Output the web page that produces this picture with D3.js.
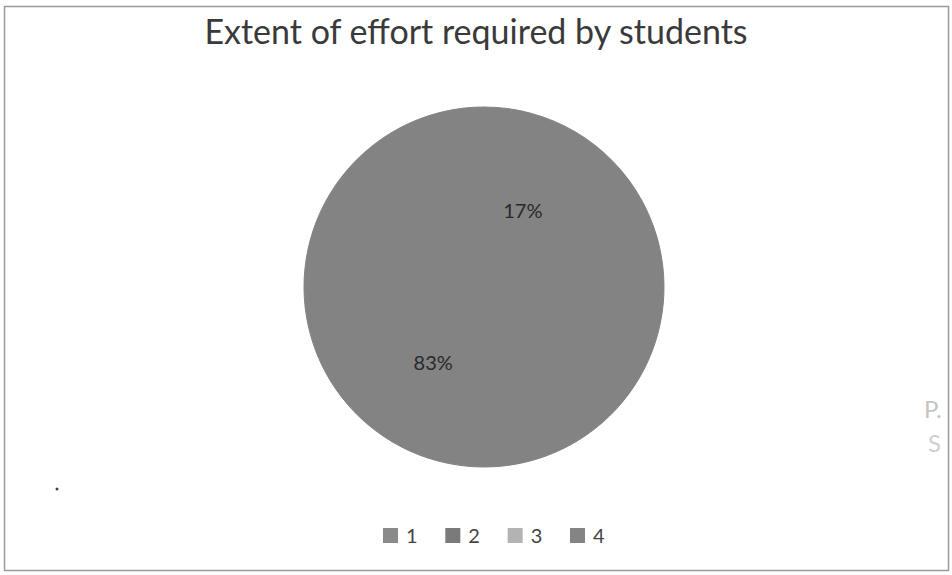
<!DOCTYPE html>
<html><head><meta charset="utf-8">
<script src="https://cdn.jsdelivr.net/npm/d3@7"></script>
<style>body{margin:0;background:#fff}svg{display:block}</style>
</head><body>
<svg id="c" width="952" height="575"></svg>
<script>
const categories = ["1", "2", "3", "4"];
const values = [17, 83, 0, 0];
const colors = ["#838383", "#838383", "#b3b3b3", "#838383"];
const legendColors = ["#8a8a8a", "#7a7a7a", "#b3b3b3", "#848484"];
const title = "Extent of effort required by students";

const svg = d3.select("#c");
const font = "Lato, 'Open Sans', 'Liberation Sans', sans-serif";

svg.append("rect").attr("x", 4.5).attr("y", 6.5).attr("width", 944).attr("height", 564)
  .attr("fill", "#fff").attr("stroke", "#9a9a9a").attr("stroke-width", 1.5);

svg.append("text").attr("x", 476).attr("y", 44).attr("text-anchor", "middle")
  .attr("font-family", font).attr("font-size", 34).attr("fill", "#3a3a3a").text(title);

const cx = 484, cy = 287, r = 180;
const data = categories.map((c, i) => ({cat: c, value: values[i], color: colors[i], legend: legendColors[i]}));
const pie = d3.pie().value(d => d.value).sort(null);
const arcs = pie(data);
const arc = d3.arc().innerRadius(0).outerRadius(r);
const labelArc = d3.arc().innerRadius(88).outerRadius(88);
const total = d3.sum(values);

const g = svg.append("g").attr("transform", `translate(${cx},${cy})`);
g.selectAll("path").data(arcs.filter(a => a.data.value > 0)).join("path")
  .attr("d", arc).attr("fill", d => d.data.color)
  .attr("stroke", d => d.data.color).attr("stroke-width", 1);

g.selectAll("text.lbl").data(arcs.filter(a => a.data.value > 0)).join("text")
  .attr("class", "lbl")
  .attr("transform", d => { const [x, y] = labelArc.centroid(d); return `translate(${x - 6},${y + 2})`; })
  .attr("text-anchor", "middle").attr("dominant-baseline", "middle")
  .attr("font-family", font).attr("font-size", 20).attr("fill", "#2a2a2a")
  .text(d => Math.round(d.data.value / total * 100) + "%");

// legend
const lx = d3.scalePoint().domain(categories).range([383, 570]);
const items = svg.append("g").selectAll("g").data(data).join("g")
  .attr("transform", d => `translate(${lx(d.cat)},528)`);
items.append("rect").attr("width", 15).attr("height", 15).attr("fill", d => d.legend);
items.append("text").attr("x", 23).attr("y", 15)
  .attr("font-family", font).attr("font-size", 20).attr("fill", "#444").text(d => d.cat);

// scan artifacts
svg.append("circle").attr("cx", 57).attr("cy", 489).attr("r", 1.5).attr("fill", "#444");
svg.append("text").attr("x", 924).attr("y", 418).attr("font-family", font).attr("font-size", 24)
  .attr("fill", "#c4c4c4").text("P.");
svg.append("text").attr("x", 928).attr("y", 452).attr("font-family", font).attr("font-size", 24)
  .attr("fill", "#cfcfcf").text("S");
</script>
</body></html>
